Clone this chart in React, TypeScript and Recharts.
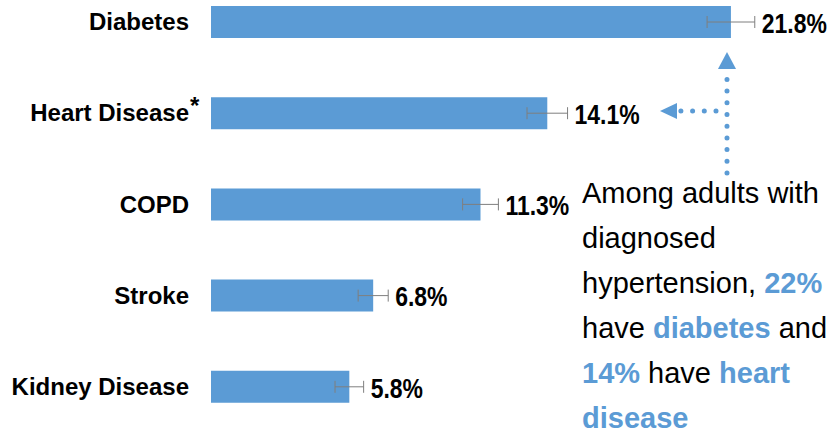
import { Bar, BarChart, ErrorBar, LabelList, XAxis, YAxis } from "recharts";

const categories = ["Diabetes", "Heart Disease", "COPD", "Stroke", "Kidney Disease"];
const prevalence = [21.8, 14.1, 11.3, 6.8, 5.8];
const errorMargins = [1.0, 0.85, 0.75, 0.63, 0.6];
const starred = ["Heart Disease"];

const BLUE = "#5b9bd5";
const SANS = "'Liberation Sans', Arial, sans-serif";

const data = categories.map((name, i) => ({
    name,
    value: prevalence[i],
    err: errorMargins[i],
}));

function CategoryTick(props: any) {
    const { x, y, payload } = props;
    const name = payload.value as string;
    return (
        <g>
            <text
                x={x - 14}
                y={y}
                textAnchor="end"
                dominantBaseline="central"
                fontFamily={SANS}
                fontWeight="bold"
                fontSize={24}
                fill="#000"
            >
                {name}
            </text>
            {starred.includes(name) && (
                <text x={x - 13} y={y + 1} fontFamily={SANS} fontWeight="bold" fontSize={24} fill="#000">
                    *
                </text>
            )}
        </g>
    );
}

// condensed bold numbers, like Arial Narrow
function ValueLabel(props: any) {
    const { x, y, width, height, value, index } = props;
    const errPx = (errorMargins[index] * width) / value;
    const lx = x + width + errPx + 7;
    const ly = y + height / 2 + 1;
    return (
        <g transform={`translate(${lx},${ly}) scale(0.82,1)`}>
            <text
                x={0}
                y={0}
                dominantBaseline="central"
                fontFamily={SANS}
                fontWeight="bold"
                fontSize={28}
                fill="#000"
            >
                {`${value.toFixed(1)}%`}
            </text>
        </g>
    );
}

export default function App() {
    return (
        <div style={{ position: "absolute", left: 0, top: 0, width: 828, height: 436, background: "#fff" }}>
            <BarChart
                width={828}
                height={436}
                data={data}
                layout="vertical"
                margin={{ top: -24, right: 0, bottom: 4, left: 0 }}
                barSize={32}
            >
                <XAxis type="number" domain={[0, 25.87]} hide />
                <YAxis
                    type="category"
                    dataKey="name"
                    width={211}
                    axisLine={false}
                    tickLine={false}
                    tick={<CategoryTick />}
                    interval={0}
                />
                <Bar dataKey="value" fill={BLUE} isAnimationActive={false}>
                    <ErrorBar dataKey="err" direction="x" width={6} stroke="#7f7f7f" strokeWidth={1} />
                    <LabelList dataKey="value" content={<ValueLabel />} />
                </Bar>
            </BarChart>
            <svg
                width={828}
                height={436}
                style={{ position: "absolute", left: 0, top: 0, pointerEvents: "none" }}
            >
                <g stroke={BLUE} strokeWidth={5} strokeLinecap="round" strokeDasharray="0 11.7" fill="none">
                    <line x1={727} y1={173} x2={727} y2={76} />
                    <line x1={716} y1={111} x2={680} y2={111} />
                </g>
                <polygon points="727,52 718,69 736,69" fill={BLUE} />
                <polygon points="660,111 677,103 677,119" fill={BLUE} />
                <text fontFamily={SANS} fontSize={29} fill="#000">
                    <tspan x={582} y={203}>Among adults with</tspan>
                    <tspan x={582} y={248}>diagnosed</tspan>
                    <tspan x={582} y={293}>
                        hypertension, <tspan fill={BLUE} fontWeight="bold">22%</tspan>
                    </tspan>
                    <tspan x={582} y={338}>
                        have <tspan fill={BLUE} fontWeight="bold">diabetes</tspan> and
                    </tspan>
                    <tspan x={582} y={383}>
                        <tspan fill={BLUE} fontWeight="bold">14%</tspan> have{" "}
                        <tspan fill={BLUE} fontWeight="bold">heart</tspan>
                    </tspan>
                    <tspan x={582} y={428} fill={BLUE} fontWeight="bold">
                        disease
                    </tspan>
                </text>
            </svg>
        </div>
    );
}
